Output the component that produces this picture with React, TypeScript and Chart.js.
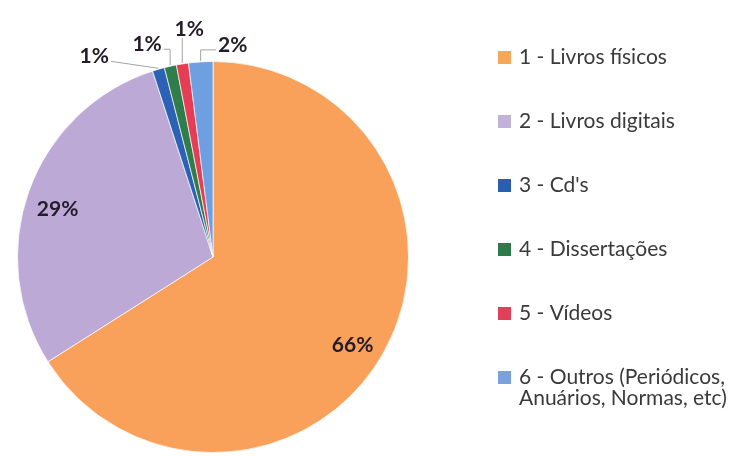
import React, { useEffect, useRef } from "react";
import { Chart, registerables } from "chart.js";

Chart.register(...registerables);

// ---- data ----
const categories = [
  "1 - Livros físicos",
  "2 - Livros digitais",
  "3 - Cd's",
  "4 - Dissertações",
  "5 - Vídeos",
  "6 - Outros (Periódicos, Anuários, Normas, etc)",
];
const legendLines = [
  ["1 - Livros físicos"],
  ["2 - Livros digitais"],
  ["3 - Cd's"],
  ["4 - Dissertações"],
  ["5 - Vídeos"],
  ["6 - Outros (Periódicos,", "Anuários, Normas, etc)"],
];
const percentages = [66, 29, 1, 1, 1, 2];

// ---- styles ----
const sliceColors = ["#F9A05A", "#BCA9D6", "#2B62B5", "#2E7D4B", "#E63D55", "#6E9FE0"];
const legendColors = ["#F6A75A", "#C0B2D9", "#2A5EAE", "#2F7A4B", "#E0405A", "#7AA0DD"];
// label offsets (px) from the label anchor of each slice
const labelOffsets: [number, number][] = [
  [-6, 8],
  [1, 9],
  [-64, -12],
  [-23, -21],
  [7, -34],
  [32, -16],
];
const INSIDE_FRACTION = 0.85;
const LEGEND_X = 498;
const LEGEND_Y0 = 57;
const LEGEND_STEP = 64;
const LEGEND_LINE = 21;

const labelPlugin = {
  id: "pctLabels",
  afterDatasetsDraw(chart: any) {
    const ctx = chart.ctx as CanvasRenderingContext2D;
    const meta = chart.getDatasetMeta(0);
    ctx.save();
    ctx.font = "bold 21px Lato";
    ctx.textAlign = "center";
    ctx.textBaseline = "middle";
    meta.data.forEach((arc: any, i: number) => {
      const p = arc.getProps(["x", "y", "startAngle", "endAngle", "outerRadius"], true);
      const mid = (p.startAngle + p.endAngle) / 2;
      const val = percentages[i];
      const text = val + "%";
      const [ox, oy] = labelOffsets[i];
      if (val >= 10) {
        const r = p.outerRadius * INSIDE_FRACTION;
        const cx = p.x + Math.cos(mid) * r + ox;
        const cy = p.y + Math.sin(mid) * r + oy;
        ctx.fillStyle = "#231c28";
        ctx.fillText(text, cx, cy);
      } else {
        const R = p.outerRadius + 1;
        const px = p.x + Math.cos(mid) * R;
        const py = p.y + Math.sin(mid) * R;
        const cx = px + ox;
        const cy = py + oy;
        const w = ctx.measureText(text).width;
        ctx.strokeStyle = "#a3a3a3";
        ctx.lineWidth = 1;
        ctx.beginPath();
        if (Math.abs(px - cx) < w / 2 - 2) {
          ctx.moveTo(px, py);
          ctx.lineTo(px, cy + 9);
        } else {
          const sx = px > cx ? cx + w / 2 + 2 : cx - w / 2 - 2;
          if (py - cy < 16) {
            ctx.moveTo(px, py);
            ctx.lineTo(sx, cy + 5);
          } else {
            ctx.moveTo(px, py);
            ctx.lineTo(px, cy + 5);
            ctx.lineTo(sx, cy + 5);
          }
        }
        ctx.stroke();
        ctx.fillStyle = "#231c28";
        ctx.fillText(text, cx, cy);
      }
    });
    ctx.restore();
  },
};

const legendPlugin = {
  id: "sideLegend",
  afterDraw(chart: any) {
    const ctx = chart.ctx as CanvasRenderingContext2D;
    ctx.save();
    ctx.font = "21px Lato";
    ctx.textAlign = "left";
    ctx.textBaseline = "middle";
    legendLines.forEach((lines, i) => {
      const y = LEGEND_Y0 + i * LEGEND_STEP;
      ctx.fillStyle = legendColors[i];
      ctx.fillRect(LEGEND_X, y - 6, 13, 13);
      ctx.fillStyle = "#3a3a3a";
      lines.forEach((ln, j) => {
        ctx.fillText(ln, LEGEND_X + 21, y + j * LEGEND_LINE);
      });
    });
    ctx.restore();
  },
};

export default function App() {
  const ref = useRef<HTMLCanvasElement | null>(null);
  useEffect(() => {
    if (!ref.current) return;
    const chart = new Chart(ref.current, {
      type: "pie",
      data: {
        labels: categories,
        datasets: [
          {
            data: percentages,
            backgroundColor: sliceColors,
            borderColor: "rgba(255,255,255,0.7)",
            borderWidth: 1,
          },
        ],
      },
      options: {
        responsive: true,
        maintainAspectRatio: false,
        animation: false,
        layout: { padding: { left: 17, top: 61, right: 338, bottom: 3 } },
        plugins: {
          legend: { display: false },
          tooltip: { enabled: false },
        },
      },
      plugins: [labelPlugin, legendPlugin],
    });
    return () => chart.destroy();
  }, []);
  return (
    <div style={{ position: "fixed", left: 0, top: 0, width: 747, height: 456, background: "#fff" }}>
      <canvas ref={ref} />
    </div>
  );
}
